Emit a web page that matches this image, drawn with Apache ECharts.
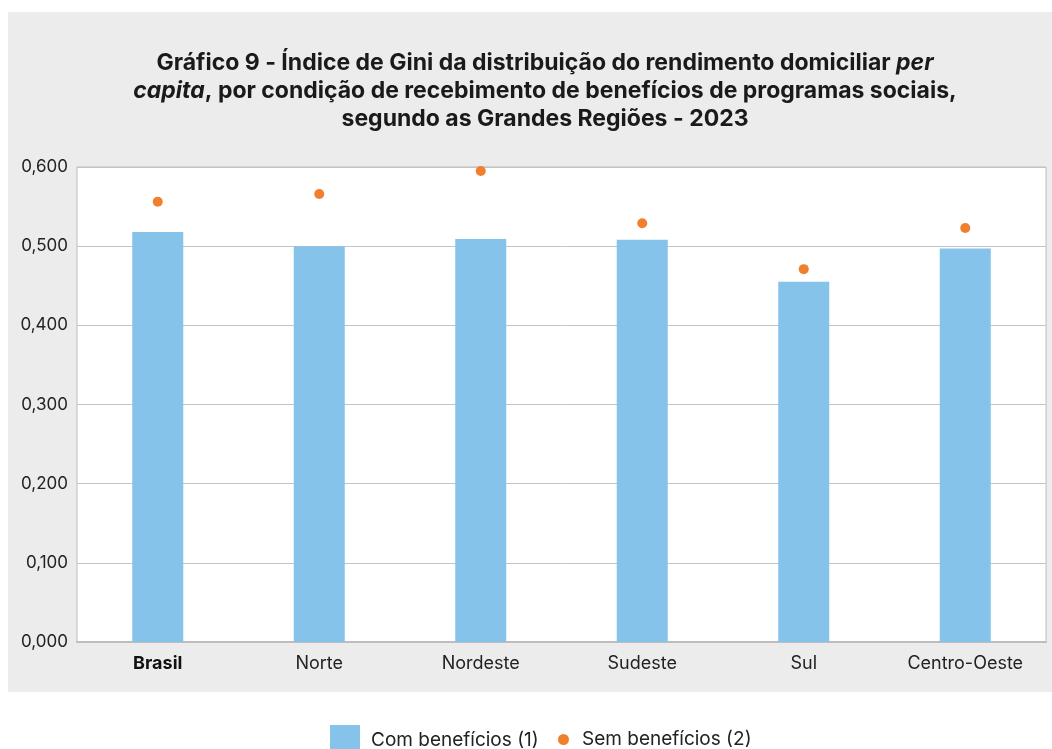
<!DOCTYPE html>
<html>
<head>
<meta charset="utf-8">
<script src="https://cdn.jsdelivr.net/npm/echarts@6/dist/echarts.min.js"></script>
<style>
html, body { margin: 0; padding: 0; background: #fff; }
#main { width: 1052px; height: 749px; }
</style>
</head>
<body>
<div id="main"></div>
<script>
var regioes = ['Brasil', 'Norte', 'Nordeste', 'Sudeste', 'Sul', 'Centro-Oeste'];
var comBeneficios = [0.518, 0.500, 0.509, 0.508, 0.455, 0.497];
var semBeneficios = [0.556, 0.566, 0.595, 0.529, 0.471, 0.523];
var yTicks = [0, 0.1, 0.2, 0.3, 0.4, 0.5, 0.6];

var myChart = echarts.init(document.getElementById('main'));
var fonte = 'Inter, Liberation Sans, Arial, sans-serif';

var option = {
    backgroundColor: '#ffffff',
    animation: false,
    graphic: [{
        type: 'rect',
        z: -10,
        shape: { x: 8, y: 12, width: 1044, height: 680 },
        style: { fill: '#ececec' }
    }],
    title: {
        left: 540,
        top: 44,
        textAlign: 'center',
        text: '{b|Gráfico 9 - Índice de Gini da distribuição do rendimento domiciliar }{i|per}\n{i|capita}{b|, por condição de recebimento de benefícios de programas sociais,}\n{b|segundo as Grandes Regiões - 2023}',
        textStyle: {
            fontFamily: fonte,
            rich: {
                b: { fontSize: 23, fontWeight: 'bold', color: '#1a1a1a', lineHeight: 28, fontFamily: fonte },
                i: { fontSize: 23, fontWeight: 'bold', fontStyle: 'italic', color: '#1a1a1a', lineHeight: 28, fontFamily: fonte }
            }
        }
    },
    legend: [{
        data: [{ name: 'Com benefícios (1)', icon: 'rect' }],
        left: 330,
        top: 725,
        padding: 0,
        itemWidth: 30,
        itemHeight: 30,
        textStyle: { fontSize: 19, color: '#222', fontFamily: fonte, padding: [0, 0, 0, 6] }
    }, {
        data: [{ name: 'Sem benefícios (2)', icon: 'circle' }],
        left: 558,
        top: 730,
        padding: 0,
        itemWidth: 11,
        itemHeight: 11,
        textStyle: { fontSize: 19, color: '#222', fontFamily: fonte, padding: [0, 0, 0, 8] }
    }],
    grid: {
        left: 77,
        right: 6,
        top: 167,
        bottom: 107,
        show: true,
        backgroundColor: '#ffffff',
        borderColor: '#bdbdbd',
        borderWidth: 1,
        containLabel: false
    },
    xAxis: {
        type: 'category',
        data: regioes,
        axisLine: { lineStyle: { color: '#bdbdbd', width: 2 } },
        axisTick: { show: false },
        axisLabel: {
            margin: 13,
            fontSize: 18,
            color: '#222',
            fontFamily: fonte,
            formatter: function (v) {
                return v === 'Brasil' ? '{bold|' + v + '}' : v;
            },
            rich: {
                bold: { fontSize: 18, fontWeight: 'bold', color: '#111', fontFamily: fonte }
            }
        }
    },
    yAxis: {
        type: 'value',
        min: yTicks[0],
        max: yTicks[yTicks.length - 1],
        interval: 0.1,
        axisLine: { show: false },
        axisTick: { show: false },
        splitLine: { lineStyle: { color: '#c4c4c4', width: 1 } },
        axisLabel: {
            margin: 9,
            fontSize: 17,
            color: '#222',
            fontFamily: fonte,
            formatter: function (v) {
                return v.toFixed(3).replace('.', ',');
            }
        }
    },
    series: [{
        name: 'Com benefícios (1)',
        type: 'bar',
        data: comBeneficios,
        barWidth: 51,
        itemStyle: { color: '#85c3ea' }
    }, {
        name: 'Sem benefícios (2)',
        type: 'scatter',
        data: semBeneficios,
        symbol: 'circle',
        symbolSize: 10,
        itemStyle: { color: '#f07f2e', opacity: 1 }
    }]
};

myChart.setOption(option);
</script>
</body>
</html>
